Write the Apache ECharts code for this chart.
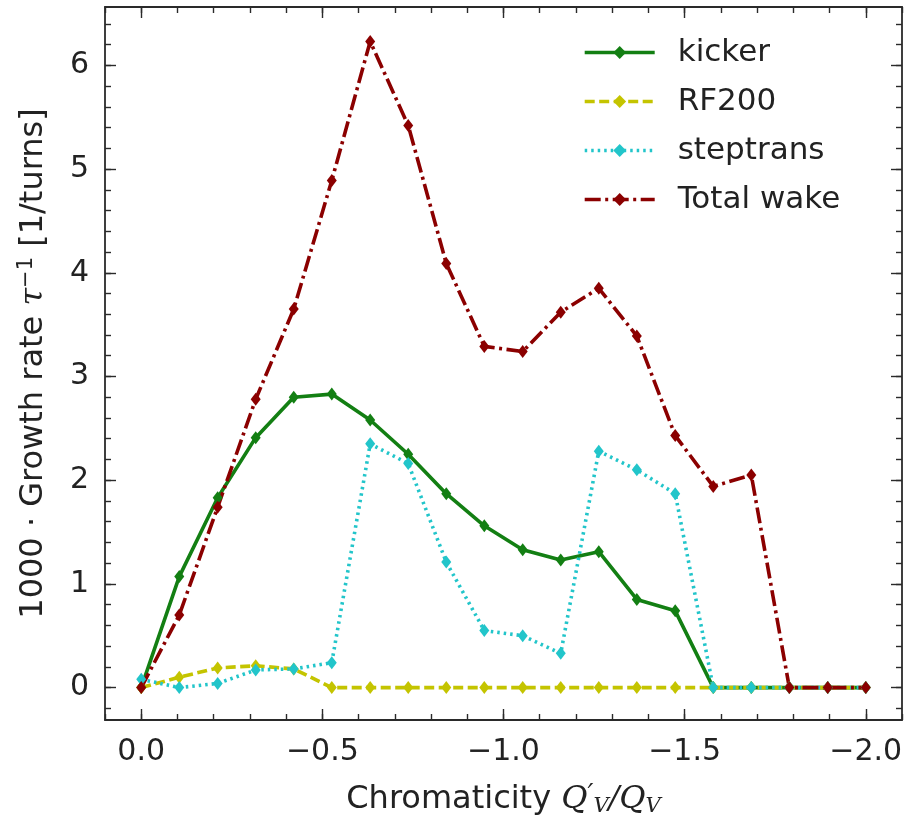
<!DOCTYPE html>
<html>
<head>
<meta charset="utf-8">
<script src="https://cdn.jsdelivr.net/npm/echarts@6/dist/echarts.min.js"></script>
<style>html,body{margin:0;padding:0;background:#fff;}#c{width:910px;height:822px;}</style>
</head>
<body>
<div id="c"></div>
<script>
// Chromaticity values (x)
const chroma = [0, -0.105, -0.211, -0.316, -0.421, -0.526, -0.632, -0.737, -0.842, -0.947,
  -1.053, -1.158, -1.263, -1.368, -1.474, -1.579, -1.684, -1.789, -1.895, -2.0];
// Growth rates (x1000)
const kicker    = [0, 1.07, 1.83, 2.41, 2.80, 2.83, 2.58, 2.25, 1.87, 1.56, 1.33, 1.23, 1.31, 0.85, 0.74, 0, 0, 0, 0, 0];
const rf200     = [0, 0.10, 0.19, 0.21, 0.18, 0, 0, 0, 0, 0, 0, 0, 0, 0, 0, 0, 0, 0, 0, 0];
const steptrans = [0.08, 0.0, 0.04, 0.17, 0.18, 0.24, 2.35, 2.16, 1.21, 0.55, 0.50, 0.33, 2.28, 2.10, 1.87, 0, 0, 0, 0, 0];
const totalWake = [0, 0.70, 1.74, 2.78, 3.65, 4.89, 6.23, 5.42, 4.09, 3.29, 3.24, 3.62, 3.85, 3.39, 2.43, 1.94, 2.05, 0, 0, 0];
// Tick labels
const xTicks = [0, -0.5, -1.0, -1.5, -2.0];
const yTicks = [0, 1, 2, 3, 4, 5, 6];

const xMinor = [];
for (let i = -21; i <= 1; i++) xMinor.push(Math.round(i) / 10);
const yMinor = [];
for (let i = -1; i <= 32; i++) yMinor.push(Math.round(i * 2) / 10);

const XMIN = -2.1, XMAX = 0.1, YMIN = -0.3125, YMAX = 6.5625;
const FONT = 'DejaVu Sans';
const AX = '#2a2a2a';

function pair(arr) { return chroma.map((x, i) => [x, arr[i]]); }
function xfmt(v) { return Math.abs(v) < 1e-9 ? '0.0' : '\u2212' + Math.abs(v).toFixed(1); }

function xAxisDef(pos, major, withLabel, name) {
  return {
    type: 'value', position: pos, inverse: true, min: XMIN, max: XMAX,
    gridIndex: 0,
    axisLine: { show: major, onZero: false, lineStyle: { color: AX, width: 1.8 } },
    axisTick: { show: true, inside: true, length: major ? 11 : 6, customValues: major ? xTicks : xMinor,
      lineStyle: { color: AX, width: 1.4 } },
    axisLabel: { show: withLabel, customValues: xTicks, formatter: xfmt, margin: 17,
      fontFamily: FONT, fontSize: 30, color: '#222' },
    splitLine: { show: false },
    name: name || '', nameLocation: 'middle', nameGap: 62,
    nameTextStyle: {
      fontFamily: FONT, fontSize: 32, color: '#222',
      rich: {
        t: { fontFamily: FONT, fontSize: 32, color: '#222' },
        i: { fontFamily: 'DejaVu Serif', fontStyle: 'italic', fontSize: 32, color: '#222' },
        p: { fontFamily: 'DejaVu Serif', fontStyle: 'italic', fontSize: 26, color: '#222', padding: [0, 0, 10, 0] },
        s: { fontFamily: 'DejaVu Serif', fontStyle: 'italic', fontSize: 21, color: '#222', padding: [14, 0, 0, 0] }
      }
    }
  };
}
function yAxisDef(pos, major, withLabel, name) {
  return {
    type: 'value', position: pos, min: YMIN, max: YMAX, gridIndex: 0,
    axisLine: { show: major, onZero: false, lineStyle: { color: AX, width: 1.8 } },
    axisTick: { show: true, inside: true, length: major ? 11 : 6, customValues: major ? yTicks : yMinor,
      lineStyle: { color: AX, width: 1.4 } },
    axisLabel: { show: withLabel, customValues: yTicks, margin: 16,
      fontFamily: FONT, fontSize: 30, color: '#222' },
    splitLine: { show: false },
    name: name || '', nameLocation: 'middle', nameGap: 54, nameRotate: 90,
    nameTextStyle: {
      fontFamily: FONT, fontSize: 32, color: '#222',
      rich: {
        t: { fontFamily: FONT, fontSize: 32, color: '#222' },
        i: { fontFamily: 'DejaVu Serif', fontStyle: 'italic', fontSize: 32, color: '#222' },
        sup: { fontFamily: FONT, fontSize: 21, color: '#222', padding: [0, 0, 14, 0] }
      }
    }
  };
}

const common = { type: 'line', symbol: 'diamond', symbolSize: [10, 13], showSymbol: true, xAxisIndex: 0, yAxisIndex: 0, animation: false };

const option = {
  animation: false,
  backgroundColor: '#fff',
  grid: { left: 105, right: 8, top: 7, bottom: 102, containLabel: false, outerBoundsMode: 'none' },
  xAxis: [
    xAxisDef('bottom', true, true, '{t|Chromaticity }{i|Q}{p|′}{s|V}{i|/Q}{s|V}'),
    xAxisDef('bottom', false, false),
    xAxisDef('top', true, false),
    xAxisDef('top', false, false)
  ],
  yAxis: [
    yAxisDef('left', true, true, '{t|1000 · Growth rate }{i|τ}{sup|−1}{t| [1/turns]}'),
    yAxisDef('left', false, false),
    yAxisDef('right', true, false),
    yAxisDef('right', false, false)
  ],
  legend: {
    orient: 'vertical', left: 578, top: 32, itemWidth: 70, itemHeight: 16, itemGap: 18,
    lineStyle: { width: 3.4 },
    textStyle: { fontFamily: FONT, fontSize: 31, color: '#222', padding: [0, 0, 0, 18] },
    data: ['kicker', 'RF200', 'steptrans', 'Total wake']
  },
  series: [
    Object.assign({}, common, { name: 'kicker', data: pair(kicker), color: '#137f13',
      lineStyle: { width: 3.6, type: 'solid' } }),
    Object.assign({}, common, { name: 'RF200', data: pair(rf200), color: '#c4c400',
      lineStyle: { width: 3.6, type: [10, 4.5] } }),
    Object.assign({}, common, { name: 'steptrans', data: pair(steptrans), color: '#22c5ca',
      lineStyle: { width: 3.6, type: [2.5, 4] } }),
    Object.assign({}, common, { name: 'Total wake', data: pair(totalWake), color: '#8b0000',
      lineStyle: { width: 3.6, type: [16, 4.5, 3, 4.5] } })
  ]
};
const chart = echarts.init(document.getElementById('c'), null, { renderer: 'canvas' });
chart.setOption(option);
</script>
</body>
</html>
